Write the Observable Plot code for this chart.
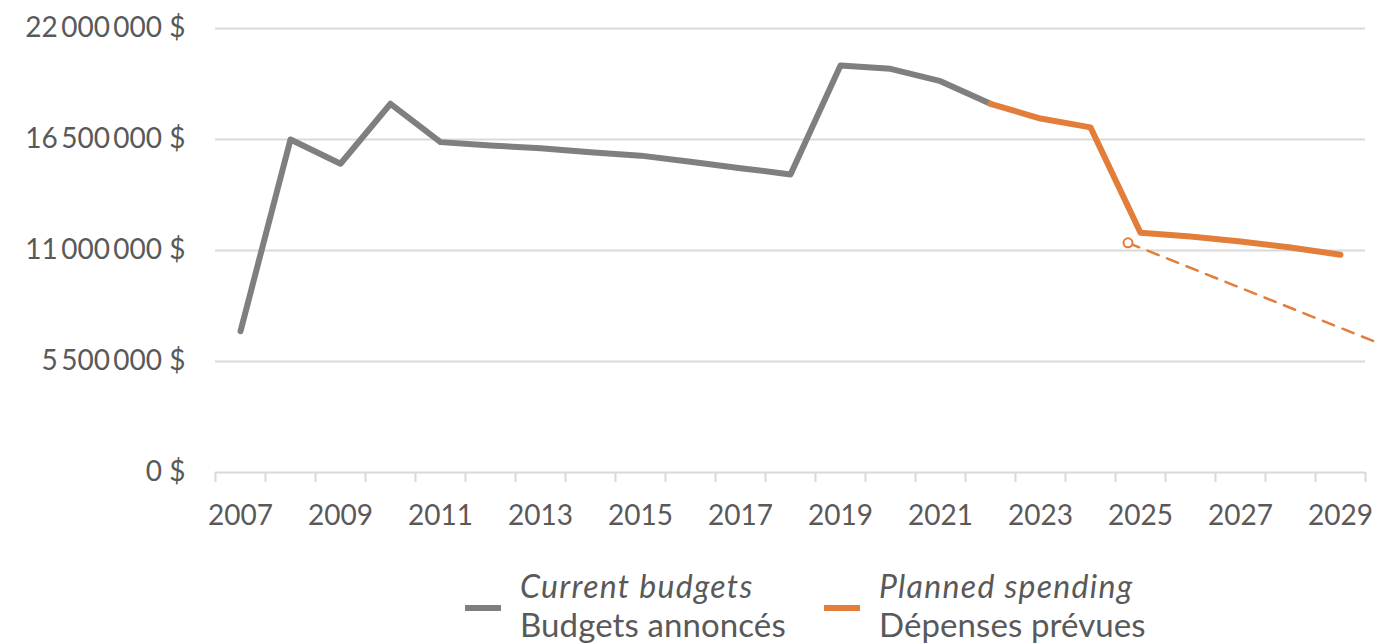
<!DOCTYPE html>
<html>
<head>
<meta charset="utf-8">
<script src="https://cdn.jsdelivr.net/npm/d3@7"></script>
<script src="https://cdn.jsdelivr.net/npm/@observablehq/plot@0.6"></script>
<style>
  body { margin: 0; background: #fff; font-family: Lato, "Open Sans", sans-serif; color: #595959; overflow: hidden; }
  #legend { display: block; }
</style>
</head>
<body>
<div id="chart"></div>
<div id="legend"></div>
<script>
// Categories (years)
const years = [2007, 2008, 2009, 2010, 2011, 2012, 2013, 2014, 2015, 2016, 2017, 2018,
               2019, 2020, 2021, 2022, 2023, 2024, 2025, 2026, 2027, 2028, 2029];
// Current budgets (2007–2022)
const currentYears = [2007, 2008, 2009, 2010, 2011, 2012, 2013, 2014, 2015, 2016, 2017, 2018, 2019, 2020, 2021, 2022];
const currentBudgets = [7000000, 16500000, 15300000, 18270000, 16370000, 16200000, 16070000, 15870000,
                        15700000, 15400000, 15080000, 14770000, 20170000, 20000000, 19390000, 18270000];
// Planned spending (2022–2029)
const plannedYears = [2022, 2023, 2024, 2025, 2026, 2027, 2028, 2029];
const plannedSpending = [18270000, 17540000, 17100000, 11880000, 11690000, 11450000, 11150000, 10790000];
// Dashed projection annotation
const trendYears = [2024.75, 2029.7];
const trendValues = [11380000, 6470000];
// Tick labels
const yTicks = [0, 5500000, 11000000, 16500000, 22000000];
const xLabelYears = [2007, 2009, 2011, 2013, 2015, 2017, 2019, 2021, 2023, 2025, 2027, 2029];
// Legend
const legendEn = ["Current budgets", "Planned spending"];
const legendFr = ["Budgets annoncés", "Dépenses prévues"];

const grey = "#7f7f7f", orange = "#e27d3a", gridC = "#d9d9d9", textC = "#595959";
const legendColors = [grey, orange];

const current = currentYears.map((y, i) => ({year: y, value: currentBudgets[i]}));
const planned = plannedYears.map((y, i) => ({year: y, value: plannedSpending[i]}));
const trend = trendYears.map((y, i) => ({year: y, value: trendValues[i]}));
const boundaries = years.map(y => y - 0.5).concat([years[years.length - 1] + 0.5]);

const fmtGroup = d3.formatLocale({decimal: ",", thousands: "\u2009", grouping: [3], currency: ["", " $"]}).format(",d");
const fmt = d => fmtGroup(d) + " $";

const chart = Plot.plot({
  width: 1375,
  height: 550,
  marginLeft: 215,
  marginRight: 10,
  marginTop: 28,
  marginBottom: 78,
  style: {fontFamily: "Lato, 'Open Sans', sans-serif", fontSize: "28px", color: textC, background: "white", overflow: "visible"},
  x: {domain: [years[0] - 0.5, years[years.length - 1] + 0.5], axis: null},
  y: {domain: [0, 22000000], axis: null},
  marks: [
    Plot.gridY(yTicks, {stroke: gridC, strokeOpacity: 1, strokeWidth: 2}),
    Plot.axisY(yTicks, {tickSize: 0, tickPadding: 30, tickFormat: fmt, fill: textC, fontSize: 28, label: null, style: {letterSpacing: "0.9px"}}),
    Plot.axisX(boundaries, {tickSize: 10, tickFormat: () => "", stroke: gridC, strokeWidth: 2, strokeOpacity: 1, label: null}),
    Plot.axisX(xLabelYears, {tickSize: 0, tickPadding: 33, tickFormat: d => String(d), fill: textC, fontSize: 28, label: null}),
    Plot.line(current, {x: "year", y: "value", stroke: grey, strokeWidth: 6, strokeLinejoin: "round", strokeLinecap: "round"}),
    Plot.line(planned, {x: "year", y: "value", stroke: orange, strokeWidth: 6, strokeLinejoin: "round", strokeLinecap: "round"}),
    Plot.line(trend, {x: "year", y: "value", stroke: orange, strokeWidth: 2.5, strokeDasharray: "12,9"}),
    Plot.dot(trend.slice(0, 1), {x: "year", y: "value", r: 4.5, stroke: orange, fill: "white", strokeWidth: 2})
  ]
});
document.getElementById("chart").appendChild(chart);

// Legend below the chart
const lsvg = d3.select("#legend").append("svg")
  .attr("width", 1375).attr("height", 93)
  .style("display", "block")
  .style("font-family", "Lato, 'Open Sans', sans-serif");
const itemX = [465, 824];
legendEn.forEach((en, i) => {
  const g = lsvg.append("g").attr("transform", `translate(${itemX[i]},0)`);
  g.append("rect").attr("x", 0).attr("y", 55).attr("width", 36).attr("height", 6).attr("fill", legendColors[i]);
  g.append("text").attr("x", 55).attr("y", 48).attr("fill", textC)
    .style("font-size", "32px").style("font-style", "italic").style("letter-spacing", "1.3px").text(en);
  g.append("text").attr("x", 55).attr("y", 87).attr("fill", textC)
    .style("font-size", "33px").style("letter-spacing", "0.1px").text(legendFr[i]);
});
</script>
</body>
</html>
